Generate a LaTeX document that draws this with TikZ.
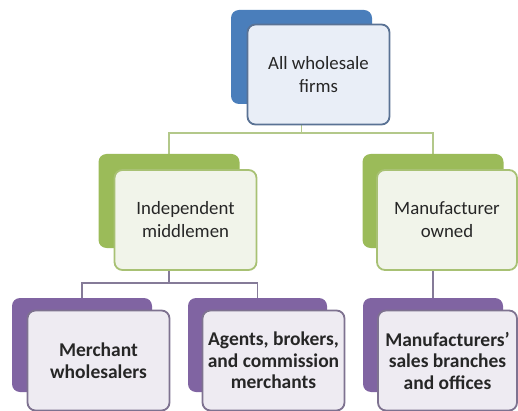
\documentclass[tikz,border=0pt]{standalone}
\usepackage{fontspec}
\setmainfont{Carlito}
\pgfdeclarelayer{bg}
\pgfsetlayers{bg,main}
\definecolor{bback}{HTML}{4A7EBB}
\definecolor{bfront}{HTML}{E9EEF7}
\definecolor{bborder}{HTML}{5A7294}
\definecolor{gback}{HTML}{9BBB59}
\definecolor{gfront}{HTML}{F1F4EA}
\definecolor{gborder}{HTML}{A8C174}
\definecolor{pback}{HTML}{8064A2}
\definecolor{pfront}{HTML}{EEEBF2}
\definecolor{pborder}{HTML}{7E7290}
\definecolor{gline}{HTML}{B3C88A}
\definecolor{pline}{HTML}{857B98}
\definecolor{txt}{HTML}{262626}
\tikzset{
  back/.style={rectangle, rounded corners=8pt, minimum width=141pt, minimum height=94pt, inner sep=0pt},
  front/.style={rectangle, rounded corners=8pt, line width=1.8pt, minimum width=142pt, minimum height=100pt, inner sep=0pt, align=center, text=txt, font=\fontsize{18.8}{23}\selectfont},
  bold/.style={font=\fontsize{19.5}{21.5}\selectfont\bfseries},
  conn/.style={line width=1.5pt}
}
\begin{document}
\begin{tikzpicture}[x=1pt,y=-1pt]
\useasboundingbox (0,0) rectangle (518,411);
% top
\node[back, fill=bback] (tb) at (301.5,57) {};
\node[front, fill=bfront, draw=bborder] (tf) at (318.5,74.5) {All wholesale\\firms};
% middle
\node[back, fill=gback] (lb) at (169,201) {};
\node[front, fill=gfront, draw=gborder] (lf) at (185.5,220) {Independent\\middlemen};
\node[back, fill=gback] (rb) at (433,201) {};
\node[front, fill=gfront, draw=gborder, minimum width=140pt] (rf) at (447,220) {Manufacturer\\owned};
% bottom
\node[back, fill=pback, minimum width=140pt] (b1) at (82,345) {};
\node[front, fill=pfront, draw=pborder, bold] (f1) at (98.5,360.5) {Merchant\\wholesalers};
\node[back, fill=pback, minimum width=139pt] (b2) at (257.5,345) {};
\node[front, fill=pfront, draw=pborder, bold] (f2) at (273.5,360.5) {Agents, brokers,\\and commission\\merchants};
\node[back, fill=pback, minimum width=140pt] (b3) at (433,345) {};
\node[front, fill=pfront, draw=pborder, bold, minimum width=139pt] (f3) at (447.5,360.5) {Manufacturers’\\sales branches\\and offices};
\begin{pgfonlayer}{bg}
\draw[conn, draw=gline] (tb.south) -- (tb.south |- 0,133) -| (lb.north);
\draw[conn, draw=gline] (tb.south |- 0,133) -| (rb.north);
\draw[conn, draw=pline] (lb.south) -- (lb.south |- 0,283) -| (b1.north);
\draw[conn, draw=pline] (lb.south |- 0,283) -| (b2.north);
\draw[conn, draw=pline] (rb.south) -- (b3.north);
\end{pgfonlayer}
\end{tikzpicture}
\end{document}
